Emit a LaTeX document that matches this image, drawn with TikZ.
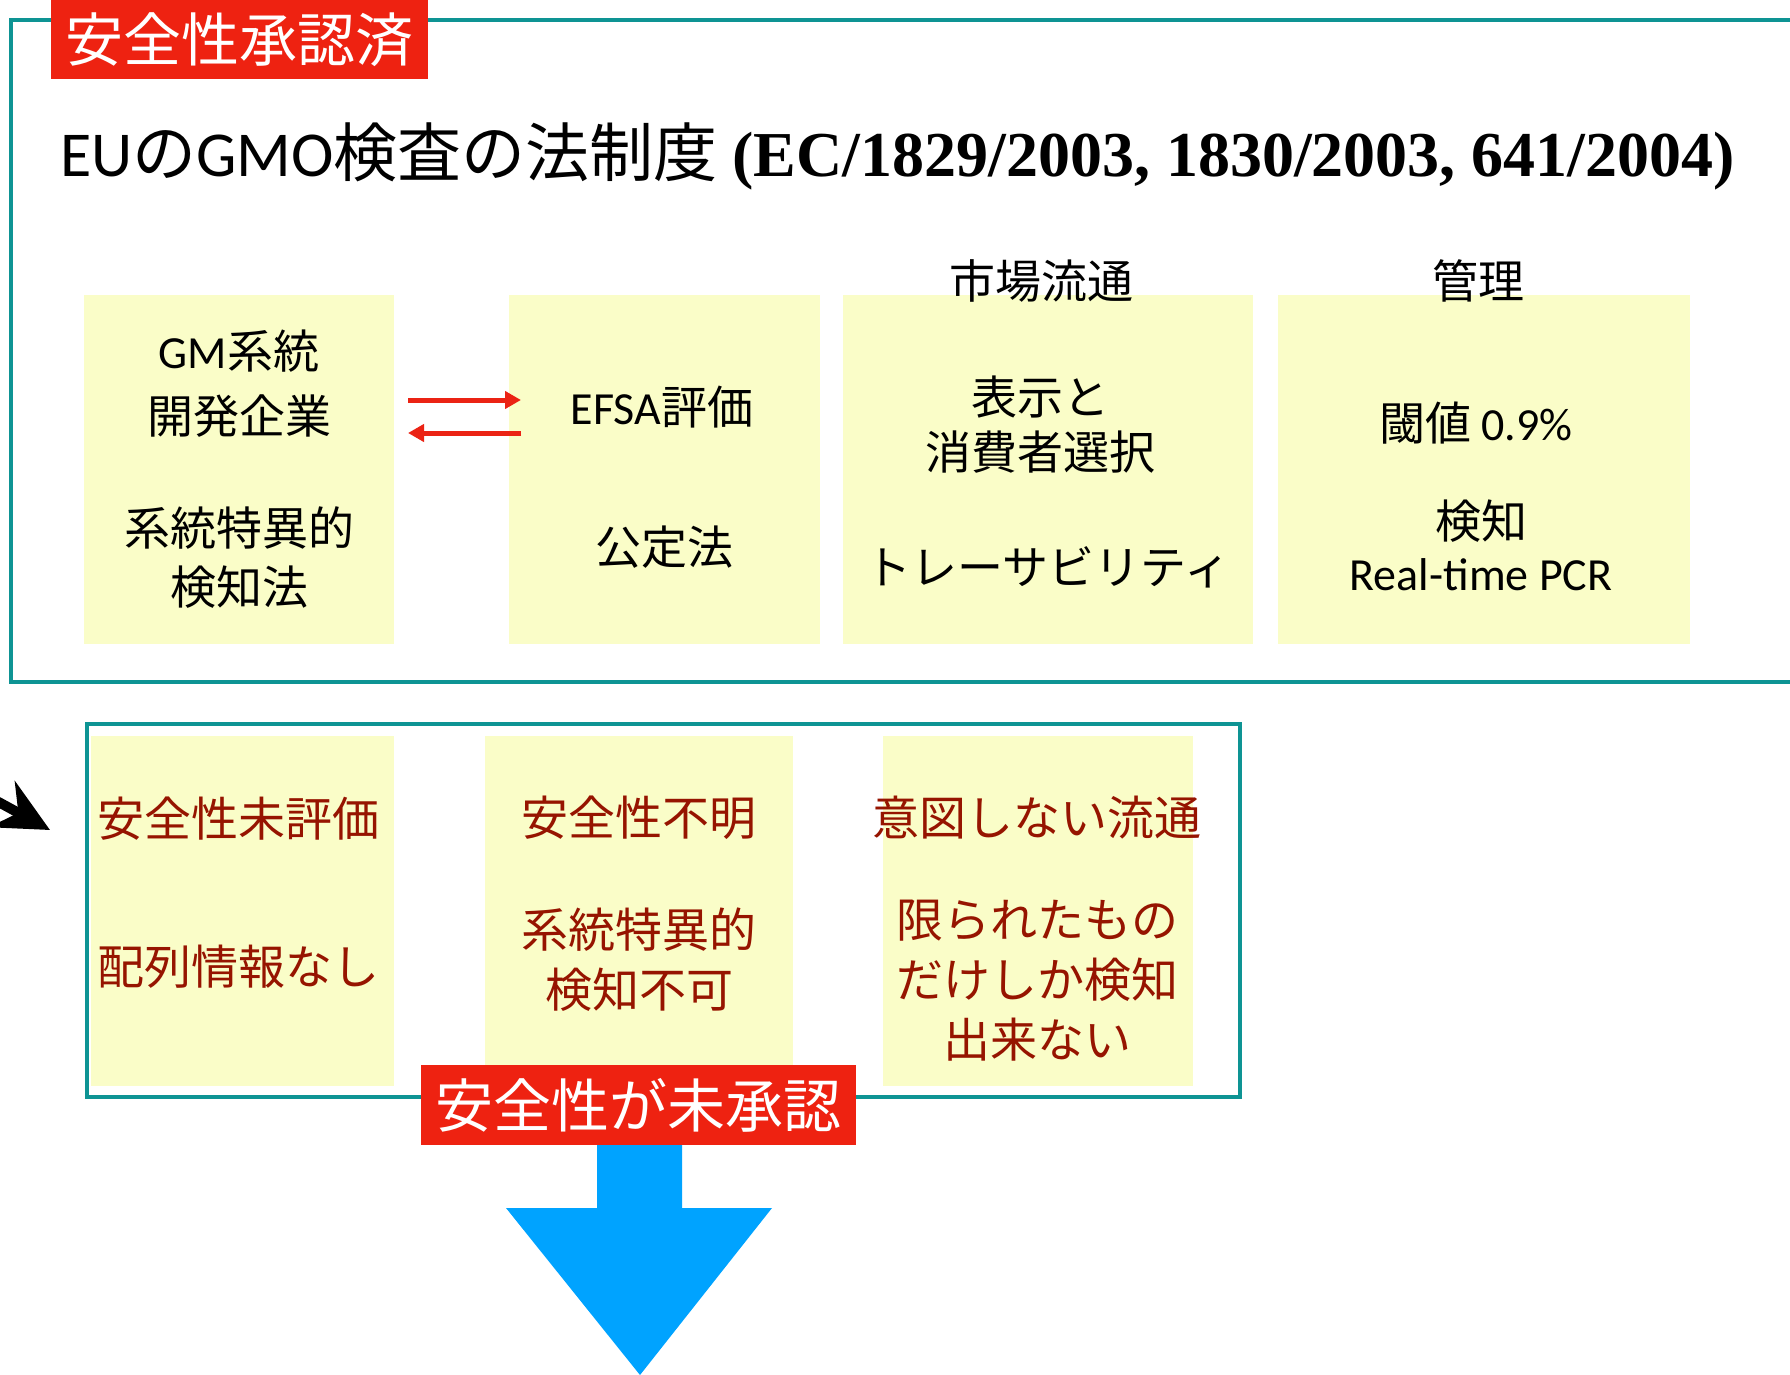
\documentclass[tikz,border=0pt]{standalone}
\usepackage{fontspec}
\setmainfont{Noto Sans CJK JP}
\newfontfamily\lat{Carlito}
\newfontfamily\tms{Liberation Serif}
\usetikzlibrary{arrows.meta}
\definecolor{teal2}{RGB}{14,148,148}
\definecolor{lblred}{RGB}{238,34,17}
\definecolor{yfill}{RGB}{250,253,200}
\definecolor{dred}{RGB}{150,20,0}
\definecolor{blue2}{RGB}{0,163,255}
\definecolor{arrred}{RGB}{235,35,20}
\begin{document}
\begin{tikzpicture}[x=1pt,y=-1pt,
 frame/.style={draw=teal2, line width=4.5pt},
 ybox/.style={fill=yfill, draw=none, inner sep=0pt, anchor=north west},
 txt/.style={inner sep=0pt, align=center, text=black},
 rtxt/.style={inner sep=0pt, align=center, text=dred},
 lbl/.style={fill=lblred, text=white, inner sep=0pt, font=\fontsize{58}{60}\selectfont},
 rarr/.style={draw=arrred, line width=5pt, -{Triangle[length=16pt,width=17pt]}}
]
\useasboundingbox[fill=white] (0,0) rectangle (1790,1375);

% ---- upper frame
\draw[frame] (11,20) rectangle (1810,682);
\node[inner sep=0pt, anchor=base west, font=\fontsize{64}{70}\selectfont] (title) at (60,177)
 {{\lat EU}の{\lat GMO}検査の法制度 {\tms\bfseries (EC/1829/2003, 1830/2003, 641/2004)}};

\node[ybox, minimum width=310pt, minimum height=349pt] (b1) at (84,295) {};
\node[ybox, minimum width=311pt, minimum height=349pt] (b2) at (509,295) {};
\node[ybox, minimum width=410pt, minimum height=349pt] (b3) at (843,295) {};
\node[ybox, minimum width=412pt, minimum height=349pt] (b4) at (1278,295) {};

\node[txt, font=\fontsize{46}{65}\selectfont] (t1a) at (239,384) {{\lat GM}系統\\開発企業};
\node[txt, font=\fontsize{46}{59}\selectfont] (t1b) at (239,558) {系統特異的\\検知法};
\node[txt, font=\fontsize{46}{55}\selectfont] (t2a) at (662,407) {{\lat EFSA}評価};
\node[txt, font=\fontsize{46}{55}\selectfont] (t2b) at (664,547) {公定法};
\node[txt, font=\fontsize{46}{55}\selectfont] (h3) at (1041,281) {市場流通};
\node[txt, font=\fontsize{46}{55}\selectfont] (h4) at (1478,281) {管理};
\node[txt, font=\fontsize{46}{55}\selectfont] (t3a) at (1040,425) {表示と\\消費者選択};
\node[txt, font=\fontsize{46}{55}\selectfont] (t3b) at (1048,567) {トレーサビリティ};
\node[txt, font=\fontsize{46}{55}\selectfont] (t4a) at (1476,423) {閾値 {\lat 0.9\%}};
\node[txt, font=\fontsize{46}{52}\selectfont] (t4b) at (1481,545) {検知\\{\lat Real-time PCR}};

\coordinate (r1s) at (408,400); \coordinate (r1e) at (521,400);
\coordinate (r2s) at (521,433); \coordinate (r2e) at (408,433);
\draw[rarr] (r1s) -- (r1e);
\draw[rarr] (r2s) -- (r2e);

\node[lbl, minimum width=377pt, minimum height=79pt] (lab1) at (239.5,39.5) {安全性承認済};

% ---- lower frame
\draw[frame, line width=4pt] (87,724) rectangle (1240,1097);
\node[ybox, minimum width=303pt, minimum height=350pt] (b5) at (91,736) {};
\node[ybox, minimum width=308pt, minimum height=350pt] (b6) at (485,736) {};
\node[ybox, minimum width=310pt, minimum height=350pt] (b7) at (883,736) {};

\node[rtxt, font=\fontsize{47}{60}\selectfont] (t5a) at (238,819) {安全性未評価};
\node[rtxt, font=\fontsize{47}{60}\selectfont] (t5b) at (238,967) {配列情報なし};
\node[rtxt, font=\fontsize{47}{60}\selectfont] (t6a) at (639,818) {安全性不明};
\node[rtxt, font=\fontsize{47}{60}\selectfont] (t6b) at (639,960) {系統特異的\\検知不可};
\node[rtxt, font=\fontsize{47}{60}\selectfont] (t7a) at (1037,818) {意図しない流通};
\node[rtxt, font=\fontsize{47}{60}\selectfont] (t7b) at (1037,981) {限られたもの\\だけしか検知\\出来ない};

% black arrow entering from the left
\coordinate (bk0) at (-75,762);
\coordinate (bk1) at (50,830);
\draw[line width=10pt, -{Stealth[length=54pt,width=52pt,inset=18pt]}] (bk0) -- (bk1);

% blue down arrow
\fill[blue2] (597,1110) -- (682,1110) -- (682,1208) -- (772,1208) -- (640,1375)
  -- (506,1208) -- (597,1208) -- cycle;

\node[lbl, minimum width=435pt, minimum height=80pt] (lab2) at (638.5,1105) {安全性が未承認};
\end{tikzpicture}
\end{document}
